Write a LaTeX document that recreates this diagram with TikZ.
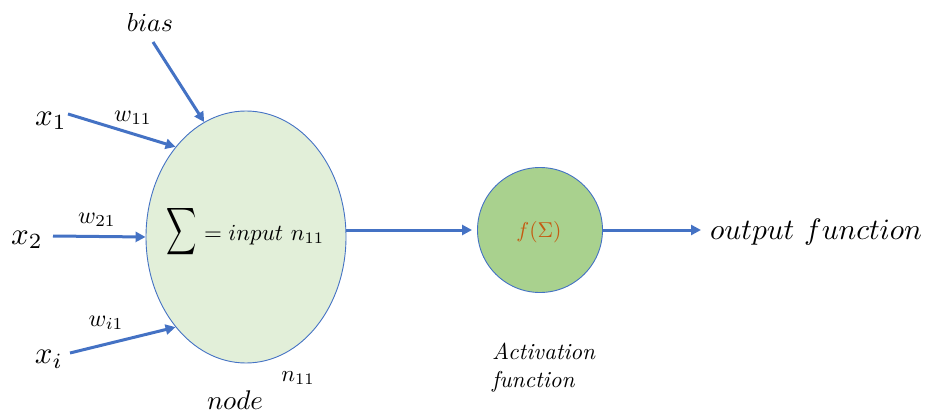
\documentclass[tikz,border=0pt]{standalone}
\usepackage{graphicx}
\usetikzlibrary{arrows.meta,shapes.geometric}
\definecolor{lblue}{HTML}{4472C4}
\definecolor{lgreen}{HTML}{E2EFD9}
\definecolor{mgreen}{HTML}{A9D18E}
\definecolor{orng}{HTML}{C55A11}
\newcommand{\sbx}[2]{\scalebox{#1}{$#2$}}
\begin{document}
\begin{tikzpicture}[x=1pt,y=-1pt,
  conn/.style={draw=lblue,line width=3pt,-{Triangle[length=10pt,width=10pt]}},
  lbl/.style={inner sep=0pt}]
\useasboundingbox (0,0) rectangle (936,414);
% main shapes
\node[ellipse,draw=lblue,line width=0.9pt,fill=lgreen,minimum width=200pt,minimum height=252pt,inner sep=0pt] (sumnode) at (246,237) {};
\node[circle,draw=lblue,line width=0.9pt,fill=mgreen,minimum size=125pt,inner sep=0pt] (act) at (540,230) {};
% texts
\node[lbl] (sigma) at (182,232) {\scalebox{2.1}[3.3]{$\displaystyle\sum$}};
\node[lbl,anchor=west] (inp) at (204,235) {\sbx{2.3}{= input\ n_{11}}};
\node[lbl,text=orng] (fs) at (539,232) {\sbx{2.15}{f(\Sigma)}};
\node[lbl] (x1) at (51,121) {\sbx{3.1}{x_1}};
\node[lbl] (x2) at (27,240) {\sbx{3.1}{x_2}};
\node[lbl] (xi) at (49,359) {\sbx{3.1}{x_i}};
\node[lbl] (bias) at (150,22) {\sbx{2.6}{bias}};
\node[lbl] (w11) at (133,118) {\sbx{2.4}{w_{11}}};
\node[lbl] (w21) at (97,220) {\sbx{2.4}{w_{21}}};
\node[lbl] (wi1) at (106,323) {\sbx{2.4}{w_{i1}}};
\node[lbl] (n11) at (298,378) {\sbx{2.3}{n_{11}}};
\node[lbl] (nodetxt) at (235,400) {\sbx{2.7}{node}};
\node[lbl,anchor=north west] (actxt) at (492,340) {\scalebox{2.3}{\itshape\begin{tabular}{@{}l@{}}Activation\\[0pt]function\end{tabular}}};
\node[lbl,anchor=west] (outtxt) at (710,232) {\sbx{2.95}{output\ function}};
% connector ends
\coordinate (x1s) at (68,114);
\coordinate (x2s) at (53,236);
\coordinate (xis) at (70,353);
\coordinate (bs) at (153,42);
\coordinate (oe) at (701,230);
% connectors
\draw[conn] (x1s) -- (sumnode.128);
\draw[conn] (x2s) -- (sumnode.west);
\draw[conn] (xis) -- (sumnode.232);
\draw[conn] (bs) -- (sumnode.110);
\draw[conn,shorten >=5pt] (sumnode.east |- act.west) -- (act.west);
\draw[conn] (act.east) -- (oe);
\end{tikzpicture}
\end{document}
